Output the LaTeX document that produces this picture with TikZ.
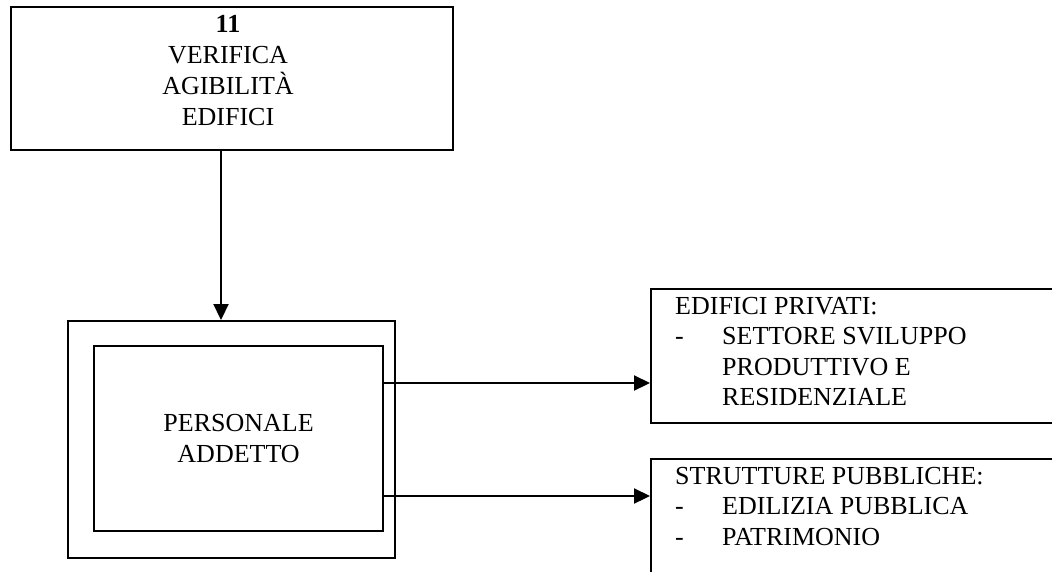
\documentclass[tikz,border=0pt]{standalone}
\usepackage{fontspec}
\setmainfont{Liberation Serif}
\usetikzlibrary{arrows.meta}
\begin{document}
\begin{tikzpicture}[x=1pt,y=-1pt,
  frame/.style={draw,line width=2.2pt,inner sep=0pt,anchor=north west},
  txt/.style={inner sep=0pt,font=\fontsize{26}{30.5}\selectfont},
  link/.style={line width=2.2pt,-{Triangle[length=16pt,width=15pt]}}]
\useasboundingbox (0,0) rectangle (1052,571);
\clip (0,0) rectangle (1052,571);

% title box
\node[frame,minimum width=442pt,minimum height=143pt] (top) at (10,6) {};
\node[txt,anchor=north,align=center,font=\fontsize{26}{31}\selectfont] (title) at (228,15)
  {\textbf{11}\\VERIFICA\\AGIBILITÀ\\EDIFICI};

% staff: double frame
\node[frame,minimum width=327pt,minimum height=237pt] (outer) at (67,320) {};
\node[frame,txt,minimum width=289pt,minimum height=185pt,align=center] (inner) at (93,345)
  {PERSONALE\\ADDETTO};

% target boxes (running past the right and bottom edges)
\node[frame,minimum width=450pt,minimum height=134pt] (priv) at (650,288) {};
\node[txt,anchor=north west,align=left] (privtext) at (675,297)
  {EDIFICI PRIVATI:\\
   \makebox[47pt][l]{-}SETTORE SVILUPPO\\
   \hspace*{47pt}PRODUTTIVO E\\
   \hspace*{47pt}RESIDENZIALE};

\node[frame,minimum width=450pt,minimum height=150pt] (pub) at (650,458) {};
\node[txt,anchor=north west,align=left] (pubtext) at (675,467)
  {STRUTTURE PUBBLICHE:\\
   \makebox[47pt][l]{-}EDILIZIA PUBBLICA\\
   \makebox[47pt][l]{-}PATRIMONIO};

% connectors
\coordinate (drop) at (221,0);
\coordinate (row1) at (0,383);
\coordinate (row2) at (0,496);
\draw[link] (drop |- top.south) -- (drop |- outer.north);
\draw[link] (inner.east |- row1) -- (priv.west |- row1);
\draw[link] (inner.east |- row2) -- (pub.west |- row2);
\end{tikzpicture}
\end{document}
